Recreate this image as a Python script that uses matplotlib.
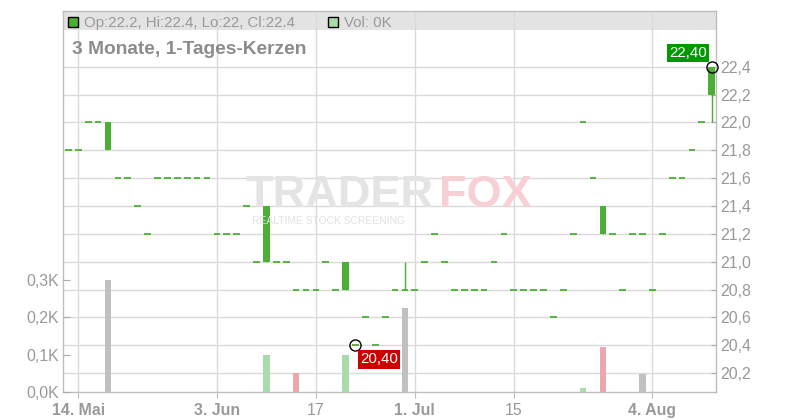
import matplotlib
matplotlib.use('Agg')
import matplotlib.pyplot as plt
import numpy as np
import pandas as pd
from matplotlib.patches import Rectangle
from matplotlib.ticker import FuncFormatter, FixedLocator

plt.rcParams['font.family'] = ['Liberation Sans', 'DejaVu Sans']

# ---------------- data ----------------
dates = pd.bdate_range('2025-05-13', '2025-08-12')

opens = [21.8, 21.8, 22.0, 22.0, 21.8, 21.6, 21.6, 21.4, 21.2, 21.6,
         21.6, 21.6, 21.6, 21.6, 21.6, 21.2, 21.2, 21.2, 21.4, 21.0,
         21.0, 21.0, 21.0, 20.8, 20.8, 20.8, 21.0, 20.8, 20.8, 20.4,
         20.6, 20.4, 20.6, 20.8, 20.8, 20.8, 21.0, 21.2, 21.0, 20.8,
         20.8, 20.8, 20.8, 21.0, 21.2, 20.8, 20.8, 20.8, 20.8, 20.6,
         20.8, 21.2, 22.0, 21.6, 21.2, 21.2, 20.8, 21.2, 21.2, 20.8,
         21.2, 21.6, 21.6, 21.8, 22.0, 22.2]
highs = [21.8, 21.8, 22.0, 22.0, 22.0, 21.6, 21.6, 21.4, 21.2, 21.6,
         21.6, 21.6, 21.6, 21.6, 21.6, 21.2, 21.2, 21.2, 21.4, 21.0,
         21.4, 21.0, 21.0, 20.8, 20.8, 20.8, 21.0, 20.8, 21.0, 20.4,
         20.6, 20.4, 20.6, 20.8, 21.0, 20.8, 21.0, 21.2, 21.0, 20.8,
         20.8, 20.8, 20.8, 21.0, 21.2, 20.8, 20.8, 20.8, 20.8, 20.6,
         20.8, 21.2, 22.0, 21.6, 21.4, 21.2, 20.8, 21.2, 21.2, 20.8,
         21.2, 21.6, 21.6, 21.8, 22.0, 22.4]
lows = [21.8, 21.8, 22.0, 22.0, 21.8, 21.6, 21.6, 21.4, 21.2, 21.6,
        21.6, 21.6, 21.6, 21.6, 21.6, 21.2, 21.2, 21.2, 21.4, 21.0,
        21.0, 21.0, 21.0, 20.8, 20.8, 20.8, 21.0, 20.8, 20.8, 20.4,
        20.6, 20.4, 20.6, 20.8, 20.8, 20.8, 21.0, 21.2, 21.0, 20.8,
        20.8, 20.8, 20.8, 21.0, 21.2, 20.8, 20.8, 20.8, 20.8, 20.6,
        20.8, 21.2, 22.0, 21.6, 21.2, 21.2, 20.8, 21.2, 21.2, 20.8,
        21.2, 21.6, 21.6, 21.8, 22.0, 22.0]
closes = [21.8, 21.8, 22.0, 22.0, 22.0, 21.6, 21.6, 21.4, 21.2, 21.6,
          21.6, 21.6, 21.6, 21.6, 21.6, 21.2, 21.2, 21.2, 21.4, 21.0,
          21.4, 21.0, 21.0, 20.8, 20.8, 20.8, 21.0, 20.8, 21.0, 20.4,
          20.6, 20.4, 20.6, 20.8, 20.8, 20.8, 21.0, 21.2, 21.0, 20.8,
          20.8, 20.8, 20.8, 21.0, 21.2, 20.8, 20.8, 20.8, 20.8, 20.6,
          20.8, 21.2, 22.0, 21.6, 21.4, 21.2, 20.8, 21.2, 21.2, 20.8,
          21.2, 21.6, 21.6, 21.8, 22.0, 22.4]
volumes_k = [0, 0, 0, 0, 0.30, 0, 0, 0, 0, 0,
             0, 0, 0, 0, 0, 0, 0, 0, 0, 0,
             0.10, 0, 0, 0.05, 0, 0, 0, 0, 0.10, 0,
             0, 0, 0, 0, 0.225, 0, 0, 0, 0, 0,
             0, 0, 0, 0, 0, 0, 0, 0, 0, 0,
             0, 0, 0.012, 0, 0.12, 0, 0, 0, 0.047, 0,
             0, 0, 0, 0, 0, 0]

tick_dates = ['2025-05-14', '2025-06-03', '2025-06-17', '2025-07-01', '2025-07-15', '2025-08-04']
tick_labels = ['14. Mai', '3. Jun', '17', '1. Jul', '15', '4. Aug']
tick_bold = [True, True, False, True, False, True]
price_ticks = [20.2, 20.4, 20.6, 20.8, 21.0, 21.2, 21.4, 21.6, 21.8, 22.0, 22.2, 22.4]
vol_ticks = [0.0, 0.1, 0.2, 0.3]

header_text = 'Op:22.2, Hi:22.4, Lo:22, Cl:22.4'
vol_text = 'Vol: 0K'
title_text = '3 Monate, 1-Tages-Kerzen'

# ---------------- style ----------------
W, H = 800, 420
GREEN = '#4caf35'
VOL_UP = '#aadbaa'
VOL_DOWN = '#eca6ae'
VOL_FLAT = '#c0c0c0'
GRID = '#dadada'
AXIS = '#bdbdbd'
TXT = '#999999'

def fx(px):
    return px / W

def fy(py):
    return 1 - py / H

fig = plt.figure(figsize=(8, 4.2), dpi=100)
L, R, T, B = 63, 716, 11, 392
axp = fig.add_axes([fx(L), fy(B), fx(R - L), (B - T) / H])
axv = axp.twinx()

x = np.arange(len(dates))
o = np.array(opens); hgh = np.array(highs); low = np.array(lows); c = np.array(closes)
vol = np.array(volumes_k)

# price axis
axp.set_xlim(-0.55, len(dates) - 1 + 0.43)
axp.set_ylim(20.065, 22.8)
axp.set_axisbelow(True)
axp.yaxis.set_major_locator(FixedLocator(price_ticks))
axp.yaxis.set_major_formatter(FuncFormatter(lambda v, p: f'{v:.1f}'.replace('.', ',')))
axp.yaxis.tick_right()
axp.grid(True, axis='both', color=GRID, lw=1)

tick_idx = [int(np.where(dates == pd.Timestamp(d))[0][0]) for d in tick_dates]
axp.set_xticks(tick_idx)
axp.set_xticklabels(tick_labels)
for lab, b in zip(axp.get_xticklabels(), tick_bold):
    lab.set_fontweight('bold' if b else 'normal')
axp.tick_params(axis='x', direction='out', length=4, color=AXIS, labelcolor=TXT,
                labelsize=11.4, pad=4)
axp.tick_params(axis='y', direction='in', length=3.5, color='#aaaaaa', labelcolor=TXT,
                labelsize=11.4, pad=3, right=True, left=False, labelright=True, labelleft=False)
for s in axp.spines.values():
    s.set_color(AXIS)
    s.set_linewidth(1)

# header band
axp.add_patch(Rectangle((0, 1 - (30 - T) / (B - T)), 1, (30 - T) / (B - T),
                        transform=axp.transAxes, facecolor='#e3e3e3', edgecolor='none', zorder=0.2))

# candles
w = 0.68
body = c != o
axp.vlines(x, low, hgh, color=GREEN, lw=1, zorder=3)
axp.bar(x[body], (c - o)[body], bottom=o[body], width=w, color=GREEN, zorder=4)
axp.hlines(c[~body], x[~body] - w / 2, x[~body] + w / 2, color=GREEN, lw=1.3, zorder=4)

# volume
prev = np.concatenate([[c[0]], c[:-1]])
vcols = [VOL_UP if cc > pc else (VOL_DOWN if cc < pc else VOL_FLAT) for cc, pc in zip(c, prev)]
axv.bar(x, vol, width=w, color=vcols, zorder=2)
axv.set_ylim(0, (B - T) / 37.4 * 0.1)
axv.yaxis.set_major_locator(FixedLocator(vol_ticks))
axv.yaxis.set_major_formatter(FuncFormatter(lambda v, p: f'{v:.1f}'.replace('.', ',') + 'K'))
axv.yaxis.tick_left()
axv.tick_params(axis='y', direction='in', length=5, color='#aaaaaa', labelcolor=TXT,
                labelsize=11.4, pad=3)
for s in axv.spines.values():
    s.set_visible(False)

# high / low markers
imax = int(np.argmax(hgh)); imin = int(np.argmin(low))
axp.plot(x[imax], hgh[imax], 'o', ms=8, mfc='none', mec='black', mew=1, zorder=6, clip_on=False)
axp.plot(x[imin], low[imin], 'o', ms=8, mfc='none', mec='black', mew=1, zorder=6)
axp.annotate(f'{hgh[imax]:.2f}'.replace('.', ','), (x[imax], hgh[imax]),
             xytext=(-17.3, 9.8), textcoords='offset points', ha='center', va='center',
             color='white', fontsize=10.8, zorder=7,
             bbox=dict(boxstyle='square,pad=0.15', fc='#009900', ec='none'))
axp.annotate(f'{low[imin]:.2f}'.replace('.', ','), (x[imin], low[imin]),
             xytext=(17.0, -10.2), textcoords='offset points', ha='center', va='center',
             color='white', fontsize=10.8, zorder=7,
             bbox=dict(boxstyle='square,pad=0.15', fc='#cc0000', ec='none'))

# header legend and title
fig.patches.append(Rectangle((fx(68.3), fy(26.7)), fx(10), 10 / H, transform=fig.transFigure,
                             facecolor=GREEN, edgecolor='black', lw=1))
fig.patches.append(Rectangle((fx(328.3), fy(26.7)), fx(10), 10 / H, transform=fig.transFigure,
                             facecolor=VOL_UP, edgecolor='black', lw=1))
fig.text(fx(84), fy(27), header_text, color=TXT, fontsize=10.8, va='baseline')
fig.text(fx(344), fy(27), vol_text, color=TXT, fontsize=10.8, va='baseline')
fig.text(fx(72), fy(54), title_text, color='#8c8c8c', fontsize=13.8, fontweight='bold', va='baseline')

# watermark
fig.text(fx(434), fy(207), 'TRADER', color='#e4e4e4', fontsize=32.5, fontweight='bold',
         ha='right', va='baseline', zorder=1)
fig.text(fx(439), fy(207), 'FOX', color='#f7d0d5', fontsize=32.5, fontweight='bold',
         ha='left', va='baseline', zorder=1)
fig.text(fx(252), fy(224), 'REALTIME STOCK SCREENING', color='#e2e2e2', fontsize=7.4,
         ha='left', va='baseline', zorder=1)

fig.savefig('out.png', dpi=100)
